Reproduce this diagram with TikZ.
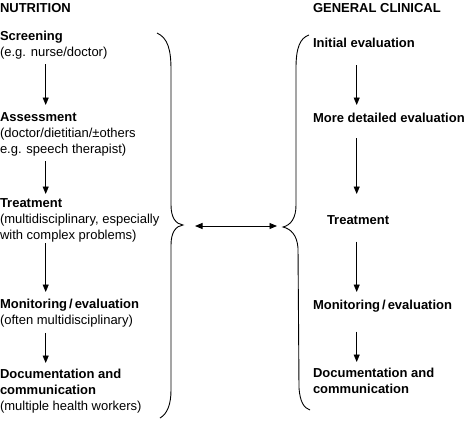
\documentclass[tikz,border=0pt]{standalone}
\usepackage{fontspec}
\setmainfont{Liberation Sans}
\usetikzlibrary{arrows.meta,calc}
\tikzset{
  stepnode/.style={anchor=north west, inner sep=0pt, outer sep=0pt, align=left, font=\fontsize{13}{16}\selectfont},
  boldstep/.style={stepnode, font=\fontsize{13}{16}\selectfont\bfseries},
  flow/.style={line width=0.9pt, -{Triangle[length=7.5pt,width=6pt]}},
  both/.style={line width=0.9pt, {Triangle[length=7.5pt,width=6pt]}-{Triangle[length=7.5pt,width=6pt]}},
  bracepath/.style={line width=0.9pt}
}
\newcommand{\slsep}{\kern2pt/\kern2pt}
\begin{document}
\begin{tikzpicture}[x=1pt,y=-1pt]
\useasboundingbox (0,0) rectangle (470,420);
% left column
\node[boldstep] (nut) at (0,3.5) {NUTRITION};
\node[stepnode] (s1) at (0,31) {\textbf{Screening}\\(e.g. nurse/doctor)};
\node[stepnode] (s2) at (0,112.5) {\textbf{Assessment}\\(doctor/dietitian/±others\\e.g. speech therapist)};
\node[stepnode] (s3) at (0,198.5) {\textbf{Treatment}\\(multidisciplinary, especially\\with complex problems)};
\node[stepnode] (s4) at (0,299.5) {\textbf{Monitoring\slsep evaluation}\\(often multidisciplinary)};
\node[stepnode] (s5) at (0,369.5) {\textbf{Documentation and}\\\textbf{communication}\\(multiple health workers)};
% right column
\node[boldstep] (gen) at (313,3.5) {GENERAL CLINICAL};
\node[boldstep] (r1) at (313,38.5) {Initial evaluation};
\node[boldstep] (r2) at (313,113.5) {More detailed evaluation};
\node[boldstep] (r3) at (327,215.5) {Treatment};
\node[boldstep] (r4) at (313,300.5) {Monitoring\slsep evaluation};
\node[boldstep] (r5) at (313,368.5) {Documentation and\\communication};
% left arrows
\draw[flow] ($(s1.south west)+(45.7,5.3)$) -- ($(s2.north west)+(45.7,-7.5)$);
\draw[flow] ($(s2.south west)+(45.7,5.3)$) -- ($(s3.north west)+(45.7,-4.5)$);
\draw[flow] ($(s3.south west)+(45.7,1)$) -- ($(s4.north west)+(45.7,-7.5)$);
\draw[flow] ($(s4.south west)+(45.7,5.3)$) -- ($(s5.north west)+(45.7,-6.5)$);
% right arrows
\draw[flow] ($(r1.south west)+(43.7,17)$) -- ($(r2.north west)+(43.7,-8.5)$);
\draw[flow] ($(r2.south west)+(43.7,15)$) -- ($(r3.north west)+(29.7,-21.5)$);
\draw[flow] ($(r3.south west)+(29.7,17)$) -- ($(r4.north west)+(43.7,-8.5)$);
\draw[flow] ($(r4.south west)+(43.7,19)$) -- ($(r5.north west)+(43.7,-6.5)$);
% braces
\coordinate (lb) at (183,225);
\coordinate (rb) at (283,227);
\draw[bracepath] (157,33) .. controls (168,38) and (171,50) .. (171,70) -- (171,205) .. controls (171,218) and (176,224) .. (lb) .. controls (176,226) and (171,232) .. (171,245) -- (171,390) .. controls (171,405) and (167,414) .. (160,418);
\draw[bracepath] (309,35) .. controls (300,38) and (296,48) .. (296,68) -- (296,205) .. controls (296,218) and (291,225) .. (rb) .. controls (291,229) and (297,235) .. (298,248) -- (299,388) .. controls (300,402) and (304,408) .. (310,410);
\coordinate (la) at ($(lb)+(12,1)$);
\coordinate (ra) at ($(rb)+(-6,-1)$);
\draw[both] (la) -- (ra);
\end{tikzpicture}
\end{document}
